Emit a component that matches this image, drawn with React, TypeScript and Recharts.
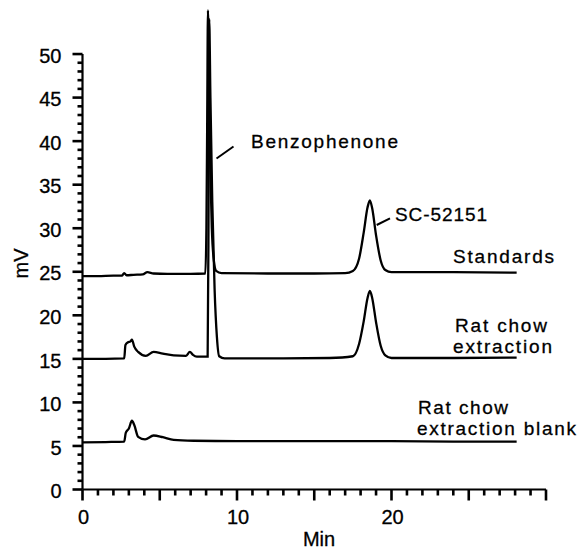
import { LineChart, Line, XAxis, YAxis, ReferenceLine } from 'recharts';

// retention time (min) and detector response (mV) for each trace
const standardsMin = [
  0, 1, 2, 2.55, 2.7, 2.85, 3.3, 3.9, 4.2, 4.6, 5.5, 7, 7.95, 8.02, 8.07, 8.12, 8.18, 8.27,
  8.37, 8.5, 8.65, 9, 12, 15, 17, 17.5, 17.9, 18.2, 18.45, 18.6, 18.75, 19, 19.3, 19.6, 20,
  24, 28.1,
];
const standardsMv = [
  24.5, 24.5, 24.55, 24.55, 24.85, 24.6, 24.65, 24.7, 24.95, 24.8, 24.75, 24.75, 24.8, 30, 42,
  55, 47, 37, 30, 26.3, 25.1, 24.85, 24.8, 24.8, 24.85, 25.1, 26.5, 29.5, 32.4, 33.2, 32.3,
  29.2, 26.3, 25.2, 24.95, 24.95, 24.9,
];

const extractionMin = [
  0, 1.5, 2.7, 2.78, 2.95, 3.1, 3.2, 3.35, 3.6, 4.1, 4.6, 5.2, 5.9, 6.7, 6.95, 7.15, 7.4, 8.1,
  8.15, 8.18, 8.2, 8.28, 8.4, 8.55, 8.7, 8.85, 9.2, 13, 16, 17.5, 17.9, 18.2, 18.45, 18.6,
  18.75, 19, 19.3, 19.6, 20, 24, 28.1,
];
const extractionMv = [
  15, 15, 15.05, 16.6, 16.9, 17, 17.2, 16.4, 15.8, 15.35, 15.8, 15.6, 15.4, 15.35, 15.8, 15.45,
  15.25, 15.25, 28, 44, 54, 45, 33, 23, 17.5, 15.3, 15.05, 15.05, 15.1, 15.3, 16.7, 19.3, 22,
  22.8, 22, 19.2, 16.5, 15.4, 15.1, 15.1, 15.15,
];

const blankMin = [
  0, 1.5, 2.7, 2.8, 3, 3.2, 3.35, 3.6, 4.05, 4.6, 5.2, 5.9, 7.2, 10, 15, 20, 24, 28.1,
];
const blankMv = [
  5.4, 5.45, 5.5, 6.5, 7, 7.9, 7.4, 6.05, 5.75, 6.2, 6, 5.7, 5.6, 5.55, 5.55, 5.55, 5.5, 5.5,
];

const xTickLabels = [0, 10, 20];
const yTickLabels = [0, 5, 10, 15, 20, 25, 30, 35, 40, 45, 50];
const xTicks = Array.from({ length: 31 }, (_, i) => i);
const yTicks = Array.from({ length: 51 }, (_, i) => i);

const toSeries = (t: number[], v: number[]) => t.map((m, i) => ({ t: m, mv: v[i] }));
const standards = toSeries(standardsMin, standardsMv);
const extraction = toSeries(extractionMin, extractionMv);
const blank = toSeries(blankMin, blankMv);

const FONT = '"Liberation Sans", Arial, sans-serif';
const INK = '#000000';

// minor tick every unit, longer tick every 5, labels only where listed
const YTick = (props: any) => {
  const { x, y, payload } = props;
  const v = payload.value;
  const len = v % 5 === 0 ? 10 : 5;
  return (
    <g>
      <path d={`M${x - len},${y}H${x}`} stroke="#000000" strokeWidth={2.6} fill="none" />
      {yTickLabels.includes(v) && (
        <text x={x - 21} y={y + 8.7} textAnchor="end" fontSize={20} fontFamily={FONT} fill={INK} stroke={INK} strokeWidth={0.3}>
          {v}
        </text>
      )}
    </g>
  );
};

const XTick = (props: any) => {
  const { x, y, payload } = props;
  const v = payload.value;
  const len = v % 5 === 0 ? 11 : 6;
  return (
    <g>
      <path d={`M${x},${y}V${y + len}`} stroke="#000000" strokeWidth={2.6} fill="none" />
      {xTickLabels.includes(v) && (
        <text x={x + 1} y={y + 34} textAnchor="middle" fontSize={20} fontFamily={FONT} fill={INK} stroke={INK} strokeWidth={0.3}>
          {v}
        </text>
      )}
    </g>
  );
};

const Note = ({ x, y, w, children }: any) => (
  <text
    x={x}
    y={y}
    fontSize={19}
    fontFamily={FONT}
    fill={INK}
    stroke={INK}
    strokeWidth={0.3}
    textLength={w}
    lengthAdjust="spacing"
  >
    {children}
  </text>
);

export default function App() {
  return (
    <div style={{ position: 'absolute', left: 0, top: 0, width: 578, height: 549, background: '#fff' }}>
      <LineChart
        width={578}
        height={549}
        margin={{ top: 10.5, right: 32, bottom: 0, left: 0 }}
      >
        <XAxis
          type="number"
          dataKey="t"
          domain={[0, 30]}
          ticks={xTicks}
          interval={0}
          tick={<XTick />}
          tickLine={false}
          tickSize={0}
          tickMargin={0}
          height={59.5}
          axisLine={{ stroke: INK, strokeWidth: 2.2 }}
        />
        <YAxis
          type="number"
          domain={[0, 55]}
          ticks={yTicks}
          interval={0}
          tick={<YTick />}
          tickLine={false}
          tickSize={0}
          tickMargin={0}
          width={82.5}
          axisLine={false}
        />
        <ReferenceLine
          segment={[
            { x: 0, y: 0 },
            { x: 0, y: 50 },
          ]}
          stroke={INK}
          strokeWidth={2.2}
        />
        <Line data={standards} dataKey="mv" type="monotone" stroke={INK} strokeWidth={2.3} dot={false} isAnimationActive={false} />
        <Line data={extraction} dataKey="mv" type="monotone" stroke={INK} strokeWidth={2.3} dot={false} isAnimationActive={false} />
        <Line data={blank} dataKey="mv" type="monotone" stroke={INK} strokeWidth={2.3} dot={false} isAnimationActive={false} />
      </LineChart>
      <svg
        width={578}
        height={549}
        style={{ position: 'absolute', left: 0, top: 0, pointerEvents: 'none' }}
      >
        <text
          x={28}
          y={263.5}
          transform="rotate(-90 28 263.5)"
          textAnchor="middle"
          fontSize={20}
          fontFamily={FONT}
          fill={INK}
          stroke={INK}
          strokeWidth={0.3}
        >
          mV
        </text>
        <text x={319} y={546} textAnchor="middle" fontSize={20} fontFamily={FONT} fill={INK} stroke={INK} strokeWidth={0.3}>
          Min
        </text>
        <line x1={216.5} y1={158.5} x2={233.5} y2={146.5} stroke={INK} strokeWidth={2} />
        <Note x={251} y={148} w={147}>Benzophenone</Note>
        <line x1={376.7} y1={225} x2={390} y2={218.3} stroke={INK} strokeWidth={2} />
        <Note x={395} y={220.7} w={92}>SC-52151</Note>
        <Note x={453} y={263.3} w={101}>Standards</Note>
        <Note x={455} y={331.5} w={92}>Rat chow</Note>
        <Note x={453} y={352.5} w={99}>extraction</Note>
        <Note x={418} y={414} w={90}>Rat chow</Note>
        <Note x={417} y={435} w={159}>extraction blank</Note>
      </svg>
    </div>
  );
}
